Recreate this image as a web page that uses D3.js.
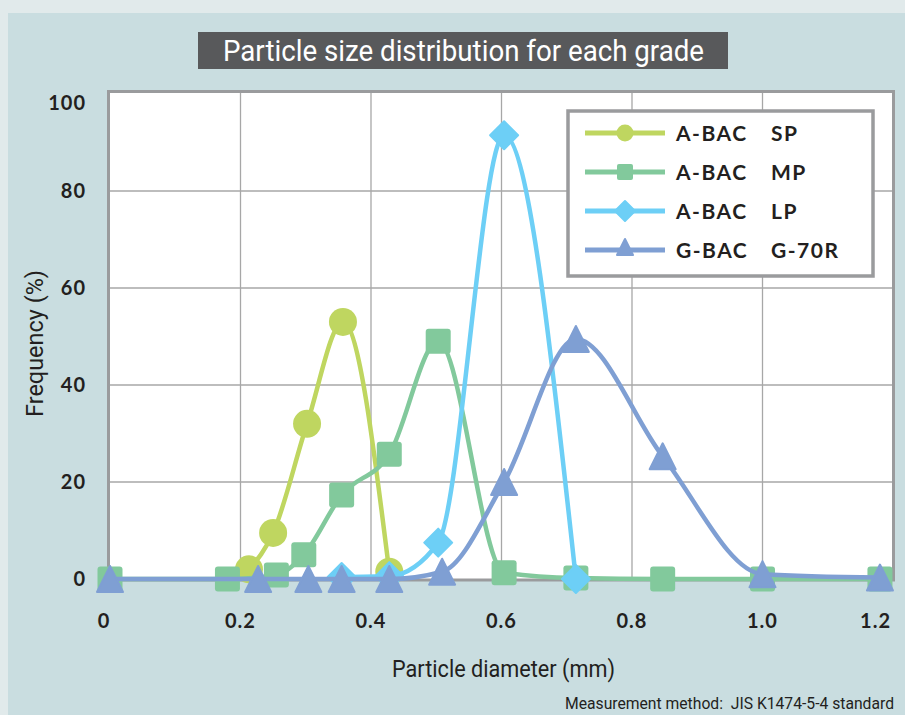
<!DOCTYPE html>
<html>
<head>
<meta charset="utf-8">
<script src="https://cdn.jsdelivr.net/npm/d3@7"></script>
<style>
html,body{margin:0;padding:0;background:#e1eaeb;}
svg{display:block;}
</style>
</head>
<body>
<svg id="chart" width="905" height="715"></svg>
<script>
// ---- data ----
const seriesNames = ["A-BAC SP", "A-BAC MP", "A-BAC LP", "G-BAC G-70R"];
const legendLeft = ["A-BAC", "A-BAC", "A-BAC", "G-BAC"];
const legendRight = ["SP", "MP", "LP", "G-70R"];
const spX = [0.213, 0.25, 0.302, 0.357, 0.428];
const spY = [2, 9.5, 32, 53, 1.5];
const mpX = [0, 0.18, 0.255, 0.297, 0.355, 0.428, 0.503, 0.604, 0.714, 0.847, 1.0, 1.18];
const mpY = [0, 0, 0.8, 5, 17.3, 25.7, 49, 1.3, 0.2, 0, 0, 0];
const lpX = [0.355, 0.428, 0.503, 0.604, 0.714];
const lpY = [0.4, 0.6, 7.5, 91.5, 0];
const gX = [0, 0.227, 0.304, 0.355, 0.428, 0.509, 0.604, 0.714, 0.847, 1.0, 1.18];
const gY = [0, 0, 0, 0, 0, 1.5, 20, 49.5, 25.3, 1, 0.3];
const xTicks = [0, 0.2, 0.4, 0.6, 0.8, 1.0, 1.2];
const xTickLabels = ["0", "0.2", "0.4", "0.6", "0.8", "1.0", "1.2"];
const yTicks = [0, 20, 40, 60, 80, 100];
const titleText = "Particle size distribution for each grade";
const xTitle = "Particle diameter (mm)";
const yTitle = "Frequency (%)";
const noteText = "Measurement method:  JIS K1474-5-4 standard";

const colors = ["#bfd660", "#82c99c", "#6dcff6", "#7f9fd3"];
const shapes = ["circle", "square", "diamond", "triangle"];

const series = [
  {x: spX, y: spY}, {x: mpX, y: mpY}, {x: lpX, y: lpY}, {x: gX, y: gY}
].map((s, i) => ({
  name: seriesNames[i], color: colors[i], shape: shapes[i],
  pts: s.x.map((v, j) => [v, s.y[j]])
}));

const svg = d3.select("#chart");

// backgrounds
svg.append("rect").attr("x", 0).attr("y", 0).attr("width", 905).attr("height", 715).attr("fill", "#e1eaeb");
svg.append("rect").attr("x", 8).attr("y", 13).attr("width", 897).attr("height", 702).attr("fill", "#c9dde0");

// title
svg.append("rect").attr("x", 198).attr("y", 32).attr("width", 530).attr("height", 37).attr("fill", "#58595b");
svg.append("text").attr("x", 223).attr("y", 61).attr("text-anchor", "start")
  .attr("font-family", "'Liberation Sans Narrow','Roboto','Liberation Sans',sans-serif")
  .attr("font-size", 30).attr("fill", "#ffffff")
  .attr("textLength", 481).attr("lengthAdjust", "spacingAndGlyphs")
  .text(titleText);

// scales
const x = d3.scaleLinear().domain([0, 1.2]).range([110, 893]);
const y = d3.scaleLinear().domain([0, 100]).range([579, 94]);

// plot area
svg.append("rect").attr("x", 108.5).attr("y", 91.5).attr("width", 785).attr("height", 488.5)
  .attr("fill", "#ffffff");

// grid
const grid = svg.append("g").attr("stroke", "#a7a7a7").attr("stroke-width", 1.3);
xTicks.slice(1, -1).forEach(t => {
  grid.append("line").attr("x1", x(t)).attr("x2", x(t)).attr("y1", 92).attr("y2", 580);
});
yTicks.slice(1, -1).forEach(t => {
  grid.append("line").attr("x1", 109).attr("x2", 893).attr("y1", y(t)).attr("y2", y(t));
});
svg.append("rect").attr("x", 108.5).attr("y", 91.5).attr("width", 785).attr("height", 488.5)
  .attr("fill", "none").attr("stroke", "#9a9b9d").attr("stroke-width", 3);

// tick labels
const tickFont = "'Lato','DejaVu Sans',sans-serif";
svg.append("g").selectAll("text").data(xTicks).join("text")
  .attr("x", (d, i) => i === 0 ? x(d) - 6 : (i === xTicks.length - 1 ? x(d) - 2 : x(d)))
  .attr("y", 628)
  .attr("text-anchor", (d, i) => i === xTicks.length - 1 ? "end" : "middle")
  .attr("font-family", tickFont).attr("font-weight", 700).attr("font-size", 20)
  .attr("letter-spacing", 1)
  .attr("fill", "#231f20")
  .text((d, i) => xTickLabels[i]);

svg.append("g").selectAll("text").data(yTicks).join("text")
  .attr("x", 86)
  .attr("y", d => Math.max(y(d), 103) + 7)
  .attr("text-anchor", "end")
  .attr("font-family", tickFont).attr("font-weight", 700).attr("font-size", 20)
  .attr("letter-spacing", 1)
  .attr("fill", "#231f20")
  .text(d => d);

// axis titles
const condFont = "'Liberation Sans Narrow','Roboto','Liberation Sans',sans-serif";
svg.append("text").attr("x", 392).attr("y", 677).attr("text-anchor", "start")
  .attr("font-family", condFont).attr("font-size", 24).attr("fill", "#231f20")
  .attr("textLength", 223).attr("lengthAdjust", "spacingAndGlyphs")
  .text(xTitle);
svg.append("text").attr("transform", "translate(43,417) rotate(-90)").attr("text-anchor", "start")
  .attr("font-family", condFont).attr("font-size", 23).attr("fill", "#231f20")
  .attr("textLength", 147).attr("lengthAdjust", "spacingAndGlyphs")
  .text(yTitle);
svg.append("text").attr("x", 565).attr("y", 709).attr("text-anchor", "start")
  .attr("font-family", condFont).attr("font-size", 16).attr("fill", "#231f20")
  .style("white-space", "pre").attr("xml:space", "preserve")
  .attr("textLength", 329).attr("lengthAdjust", "spacingAndGlyphs")
  .text(noteText);

// marker drawing
function marker(g, shape, cx, cy, size, color) {
  if (shape === "circle") {
    g.append("circle").attr("cx", cx).attr("cy", cy).attr("r", size / 2).attr("fill", color);
  } else if (shape === "square") {
    g.append("rect").attr("x", cx - size / 2).attr("y", cy - size / 2)
      .attr("width", size).attr("height", size).attr("rx", size * 0.12).attr("fill", color);
  } else if (shape === "diamond") {
    const h = size / 2;
    g.append("path").attr("d", `M${cx},${cy - h}L${cx + h},${cy}L${cx},${cy + h}L${cx - h},${cy}Z`)
      .attr("fill", color).attr("stroke", color).attr("stroke-width", 2).attr("stroke-linejoin", "round");
  } else {
    const h = size / 2;
    g.append("path").attr("d", `M${cx},${cy - h}L${cx + h},${cy + h}L${cx - h},${cy + h}Z`)
      .attr("fill", color).attr("stroke", color).attr("stroke-width", 2).attr("stroke-linejoin", "round");
  }
}

const line = d3.line().x(d => x(d[0])).y(d => y(d[1])).curve(d3.curveMonotoneX);
const sizes = {circle: 28, square: 25, diamond: 28, triangle: 26};

series.forEach(s => {
  const g = svg.append("g");
  g.append("path").attr("d", line(s.pts)).attr("fill", "none")
    .attr("stroke", s.color).attr("stroke-width", 4.5).attr("stroke-linejoin", "round");
  s.pts.forEach(p => marker(g, s.shape, x(p[0]), y(p[1]), sizes[s.shape], s.color));
});

// legend
const lg = svg.append("g");
lg.append("rect").attr("x", 568).attr("y", 111).attr("width", 305).attr("height", 165)
  .attr("fill", "#ffffff").attr("stroke", "#9a9b9d").attr("stroke-width", 3.5);
const legSizes = {circle: 17, square: 16, diamond: 20, triangle: 16};
series.forEach((s, i) => {
  const ly = 133 + i * 39;
  lg.append("line").attr("x1", 585).attr("x2", 665).attr("y1", ly).attr("y2", ly)
    .attr("stroke", s.color).attr("stroke-width", 5);
  marker(lg, s.shape, 625, s.shape === "triangle" ? ly - 3 : ly, legSizes[s.shape], s.color);
  lg.append("text").attr("x", 676).attr("y", ly + 8)
    .attr("font-family", tickFont).attr("font-weight", 700).attr("font-size", 21)
    .attr("letter-spacing", 1.5).attr("fill", "#231f20").text(legendLeft[i]);
  lg.append("text").attr("x", 771).attr("y", ly + 8)
    .attr("font-family", tickFont).attr("font-weight", 700).attr("font-size", 21)
    .attr("letter-spacing", 1.5).attr("fill", "#231f20").text(legendRight[i]);
});
</script>
</body>
</html>
